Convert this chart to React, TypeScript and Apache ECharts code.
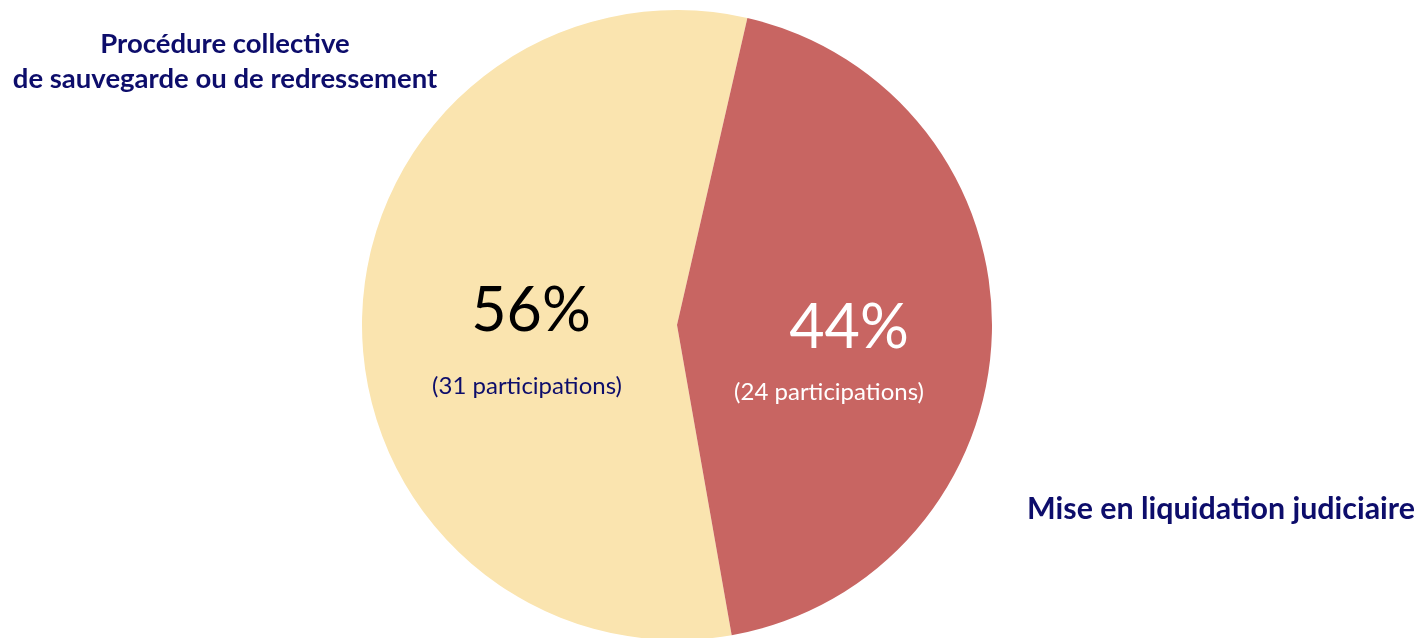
import React, { useEffect, useRef } from "react";
import * as echarts from "echarts";

const categories = ["Procédure collective\nde sauvegarde ou de redressement", "Mise en liquidation judiciaire"];
const participations = [31, 24];
const sliceColors = ["#FAE4AF", "#C86562"];

export default function App() {
  const ref = useRef<HTMLDivElement>(null);
  useEffect(() => {
    if (!ref.current) return;
    const chart = echarts.init(ref.current, null, { renderer: "svg" });
    const total = participations.reduce((a, b) => a + b, 0);
    const pct = participations.map((v) => Math.round((v / total) * 100) + "%");
    const navy = "#0D0D6B";
    const font = "Lato, 'Open Sans', sans-serif";
    chart.setOption({
      animation: false,
      series: [
        {
          type: "pie",
          center: [677, 325],
          radius: 315,
          startAngle: 280,
          clockwise: true,
          label: { show: false },
          labelLine: { show: false },
          emphasis: { disabled: true },
          silent: true,
          z: 1,
          itemStyle: { borderWidth: 0 },
          data: categories.map((name, i) => ({
            name,
            value: participations[i],
            itemStyle: { color: sliceColors[i] },
          })),
        },
      ],
      graphic: {
        elements: [
          {
            type: "text",
            x: 531,
            y: 307,
            z: 100,
            style: { text: pct[0], fontSize: 61, fontFamily: font, fill: "#000", align: "center", verticalAlign: "middle" },
          },
          {
            type: "text",
            x: 527,
            y: 384,
            z: 100,
            style: { text: `(${participations[0]} participations)`, fontSize: 24, fontFamily: font, fill: navy, align: "center", verticalAlign: "middle" },
          },
          {
            type: "text",
            x: 849,
            y: 324,
            z: 100,
            style: { text: pct[1], fontSize: 61, fontFamily: font, fill: "#fff", align: "center", verticalAlign: "middle" },
          },
          {
            type: "text",
            x: 829,
            y: 390,
            z: 100,
            style: { text: `(${participations[1]} participations)`, fontSize: 24, fontFamily: font, fill: "#fff", align: "center", verticalAlign: "middle" },
          },
          {
            type: "text",
            x: 225,
            y: 60,
            z: 100,
            style: { text: categories[0], fontSize: 27.5, fontWeight: "bold", fontFamily: font, fill: navy, align: "center", verticalAlign: "middle", lineHeight: 35 },
          },
          {
            type: "text",
            x: 1221,
            y: 507,
            z: 100,
            style: { text: categories[1], fontSize: 30.4, fontWeight: "bold", fontFamily: font, fill: navy, align: "center", verticalAlign: "middle" },
          },
        ],
      },
    });
    return () => chart.dispose();
  }, []);
  return <div ref={ref} style={{ position: "fixed", left: 0, top: 0, width: 1421, height: 638 }} />;
}
